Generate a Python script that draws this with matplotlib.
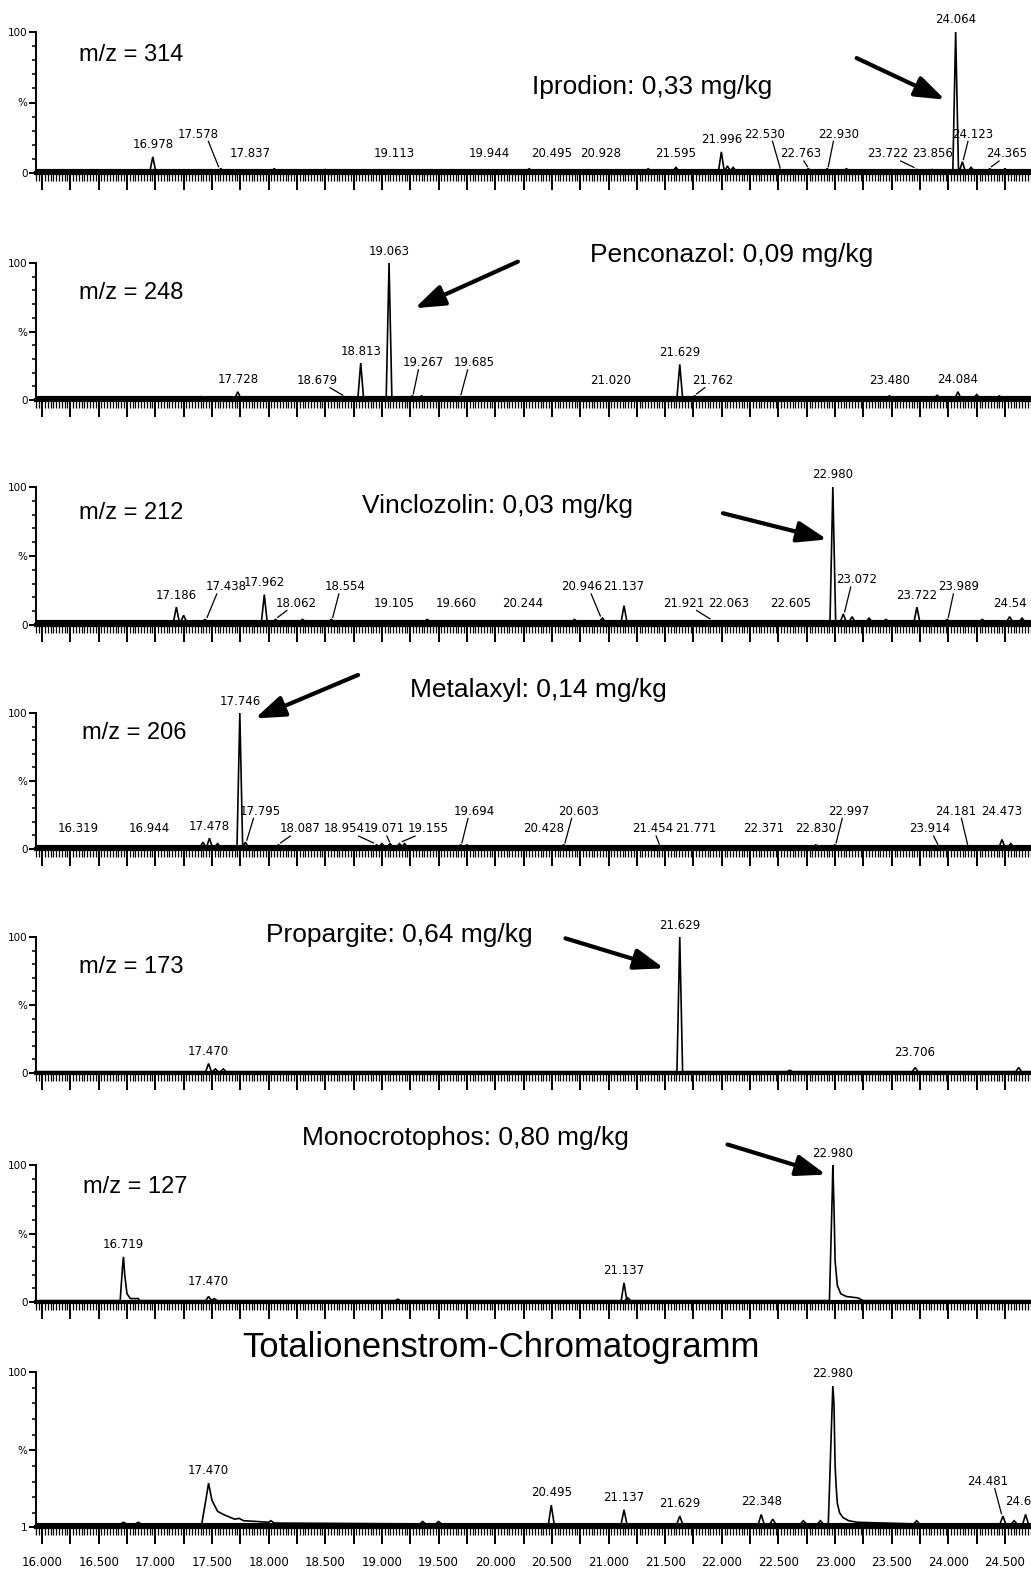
import matplotlib
matplotlib.use("Agg")
import matplotlib.pyplot as plt
from matplotlib import font_manager
from matplotlib.ticker import MultipleLocator, FuncFormatter

# ---- data (retention time in min, intensity in %) ----

P1_MZ = "m/z = 314"
P1_LABELS = ["16.978", "17.578", "17.837", "19.113", "19.944", "20.495", "20.928", "21.595",
             "21.996", "22.530", "22.763", "22.930", "23.722", "23.856", "24.064", "24.123", "24.365"]
P1_HEIGHTS = [11.5, 3, 1.5, 1.5, 1.5, 2, 2, 4, 15, 2, 3, 3, 2.5, 2.5, 100, 8, 3]
P1_EXTRA_RT = [18.05, 18.5, 20.3, 21.35, 22.05, 22.1, 23.1, 24.2, 24.5]
P1_EXTRA_H = [3, 2.5, 3, 3, 5, 4, 3, 4, 3]
P1_COMPOUND = "Iprodion: 0,33 mg/kg"

P2_MZ = "m/z = 248"
P2_LABELS = ["17.728", "18.679", "18.813", "19.063", "19.267", "19.685", "21.020", "21.629",
             "21.762", "23.480", "24.084"]
P2_HEIGHTS = [6, 2, 27, 100, 3, 2.5, 2, 26, 3, 3, 6]
P2_EXTRA_RT = [17.4, 19.35, 23.9, 24.25, 24.45]
P2_EXTRA_H = [2.5, 3, 3.5, 4, 3]
P2_COMPOUND = "Penconazol: 0,09 mg/kg"

P3_MZ = "m/z = 212"
P3_LABELS = ["17.186", "17.438", "17.962", "18.062", "18.554", "19.105", "19.660", "20.244",
             "20.946", "21.137", "21.921", "22.063", "22.605", "22.980", "23.072", "23.722",
             "23.989", "24.54"]
P3_HEIGHTS = [13, 4, 22, 4, 4, 3, 3, 3, 5, 14, 3, 3, 3, 100, 8, 13, 4, 6]
P3_EXTRA_RT = [17.25, 18.3, 19.4, 20.7, 23.15, 23.3, 23.45, 24.3, 24.65]
P3_EXTRA_H = [7, 4, 4, 4, 6, 5, 4, 4, 5]
P3_COMPOUND = "Vinclozolin: 0,03 mg/kg"

P4_MZ = "m/z = 206"
P4_LABELS = ["16.319", "16.944", "17.478", "17.746", "17.795", "18.087", "18.954", "19.071",
             "19.155", "19.694", "20.428", "20.603", "21.454", "21.771", "22.371", "22.830",
             "22.997", "23.914", "24.181", "24.473"]
P4_HEIGHTS = [2, 2, 8, 100, 5, 3, 3, 4, 4, 3, 2, 3, 2, 2, 2, 3, 3, 2, 2, 7]
P4_EXTRA_RT = [17.42, 17.55, 19.0, 19.2, 19.75, 24.55]
P4_EXTRA_H = [5, 4, 4, 4, 3, 4]
P4_COMPOUND = "Metalaxyl: 0,14 mg/kg"

P5_MZ = "m/z = 173"
P5_LABELS = ["17.470", "21.629", "23.706"]
P5_HEIGHTS = [7, 100, 4]
P5_EXTRA_RT = [17.53, 17.6, 22.6, 24.62]
P5_EXTRA_H = [3, 3, 2, 4]
P5_COMPOUND = "Propargite: 0,64 mg/kg"

P6_MZ = "m/z = 127"
P6_LABELS = ["16.719", "17.470", "21.137", "22.980"]
P6_HEIGHTS = [33, 4, 14, 100]
P6_EXTRA_RT = [17.52, 19.14, 21.17]
P6_EXTRA_H = [2.5, 2, 3]
P6_COMPOUND = "Monocrotophos: 0,80 mg/kg"
P6_SHAPE_16719_RT = [16.69, 16.71, 16.719, 16.73, 16.75, 16.78, 16.85, 16.86]
P6_SHAPE_16719_H = [1, 25, 33, 20, 6, 2.5, 2.5, 1]
P6_SHAPE_22980_RT = [22.95, 22.975, 22.98, 22.99, 23.0, 23.02, 23.05, 23.1, 23.2, 23.25]
P6_SHAPE_22980_H = [1, 80, 100, 70, 30, 12, 6, 4, 3, 1]

TIC_TITLE = "Totalionenstrom-Chromatogramm"
TIC_LABELS = ["17.470", "20.495", "21.137", "21.629", "22.348", "22.980", "24.481", "24.681"]
TIC_HEIGHTS = [29, 15, 12, 8, 9, 91, 8, 9]
TIC_EXTRA_RT = [16.72, 16.85, 19.36, 19.5, 22.45, 22.72, 22.87, 23.72, 24.58]
TIC_EXTRA_H = [4, 4, 4.5, 4.5, 6, 5, 5, 5, 5]
TIC_SHAPE_17470_RT = [17.41, 17.45, 17.47, 17.50, 17.55, 17.60, 17.65, 17.70, 17.74, 17.78,
                      17.90, 18.00, 18.02, 18.05]
TIC_SHAPE_17470_H = [3, 20, 29, 18, 11, 9, 7.5, 6, 6.5, 5, 4.5, 4, 5, 3.5]
TIC_SHAPE_22980_RT = [22.94, 22.97, 22.98, 22.99, 23.0, 23.01, 23.02, 23.04, 23.07, 23.12, 23.2]
TIC_SHAPE_22980_H = [3, 70, 91, 80, 40, 26, 16, 10, 7, 5, 4]

X_TICK_START, X_TICK_END = 16.0, 24.5

# ---- layout ----

W_PX, H_PX, DPI = 1031, 1571, 100
AX_LEFT_PX = 36
RT_MIN, RT_MAX = 15.947, 24.729
HALF_WIDTH = 0.025
LABEL_GAP = 4

_names = {f.name for f in font_manager.fontManager.ttflist}
NARROW = "Liberation Sans Narrow" if "Liberation Sans Narrow" in _names else "DejaVu Sans"
SANS = "Liberation Sans" if "Liberation Sans" in _names else "DejaVu Sans"
NARROW_SIZE = 11 if NARROW != "DejaVu Sans" else 8.5


def panel(mz, labels, heights, extra_rt, extra_h, compound, **kw):
    d = dict(mz=mz, labels=labels, heights=heights, extra_rt=extra_rt, extra_h=extra_h,
             compound=compound, shapes={}, nudges={}, base=1.5, levels=(10, 23), ymin=0,
             band=0)
    d.update(kw)
    return d


PANELS = [
    panel(P1_MZ, P1_LABELS, P1_HEIGHTS, P1_EXTRA_RT, P1_EXTRA_H, P1_COMPOUND,
          px=(32, 173), levels=(9, 23), mz_pos=(16.33, 84), band=3,
          ann=dict(text=(20.325, 61), tail=(23.19, 81.5), head=(23.97, 52)),
          nudges={"17.578": (-0.2, 1), "22.530": (-0.15, 1), "22.763": (-0.07, 0),
                  "22.930": (0.1, 1), "23.722": (-0.26, 0), "24.123": (0.09, 1),
                  "24.365": (0.15, 0)}),
    panel(P2_MZ, P2_LABELS, P2_HEIGHTS, P2_EXTRA_RT, P2_EXTRA_H, P2_COMPOUND,
          px=(263, 400), levels=(9.5, 22.5), mz_pos=(16.33, 78), band=3,
          ann=dict(text=(20.84, 106), tail=(20.2, 101), head=(19.29, 67)),
          nudges={"18.679": (-0.25, 0), "19.267": (0.1, 1), "19.685": (0.13, 1),
                  "21.762": (0.16, 0)}),
    panel(P3_MZ, P3_LABELS, P3_HEIGHTS, P3_EXTRA_RT, P3_EXTRA_H, P3_COMPOUND,
          px=(487, 625), levels=(11, 23), base=2.5, mz_pos=(16.33, 81), band=3,
          ann=dict(text=(18.82, 86), tail=(22.01, 81), head=(22.93, 62)),
          nudges={"17.438": (0.19, 1), "18.062": (0.18, 0), "18.554": (0.12, 1),
                  "20.946": (-0.18, 1), "21.137": (0, 1), "21.921": (-0.26, 0),
                  "23.072": (0.12, 28), "23.989": (0.1, 1)}),
    panel(P4_MZ, P4_LABELS, P4_HEIGHTS, P4_EXTRA_RT, P4_EXTRA_H, P4_COMPOUND,
          px=(713, 849), levels=(10, 23), mz_pos=(16.35, 85), band=3,
          ann=dict(text=(19.25, 117), tail=(18.79, 128), head=(17.88, 96)),
          nudges={"17.795": (0.13, 1), "18.087": (0.19, 0), "18.954": (-0.29, 0),
                  "19.071": (-0.05, 0), "19.155": (0.25, 0), "19.694": (0.12, 1),
                  "20.603": (0.13, 1), "21.454": (-0.06, 0), "22.997": (0.12, 1),
                  "23.914": (-0.08, 0), "24.181": (-0.12, 1), "24.473": (0, 1)}),
    panel(P5_MZ, P5_LABELS, P5_HEIGHTS, P5_EXTRA_RT, P5_EXTRA_H, P5_COMPOUND,
          px=(937, 1073), base=1, mz_pos=(16.33, 78), band=2,
          ann=dict(text=(17.98, 101.5), tail=(20.62, 99), head=(21.49, 77))),
    panel(P6_MZ, P6_LABELS, P6_HEIGHTS, P6_EXTRA_RT, P6_EXTRA_H, P6_COMPOUND,
          px=(1165, 1302), base=1, mz_pos=(16.36, 84),
          ann=dict(text=(18.295, 120), tail=(22.05, 115), head=(22.92, 93)),
          shapes={"16.719": (P6_SHAPE_16719_RT, P6_SHAPE_16719_H),
                  "22.980": (P6_SHAPE_22980_RT, P6_SHAPE_22980_H)}),
    panel(None, TIC_LABELS, TIC_HEIGHTS, TIC_EXTRA_RT, TIC_EXTRA_H, None,
          px=(1372, 1527), base=3, ymin=1, band=1.5,
          shapes={"17.470": (TIC_SHAPE_17470_RT, TIC_SHAPE_17470_H),
                  "22.980": (TIC_SHAPE_22980_RT, TIC_SHAPE_22980_H)},
          nudges={"24.481": (-0.13, 26)}),
]


def build_trace(p):
    peaks = [(float(s), h, s) for s, h in zip(p["labels"], p["heights"])]
    peaks += [(rt, h, None) for rt, h in zip(p["extra_rt"], p["extra_h"])]
    peaks.sort()
    b = p["base"]
    xs, ys = [RT_MIN], [b]
    for rt, h, s in peaks:
        if s in p["shapes"]:
            srt, sh = p["shapes"][s]
            xs += list(srt)
            ys += list(sh)
        else:
            xs += [rt - HALF_WIDTH, rt, rt + HALF_WIDTH]
            ys += [b, h, b]
    xs.append(RT_MAX)
    ys.append(b)
    return xs, ys


def style_axes(ax, p, last):
    for side in ("top", "right"):
        ax.spines[side].set_visible(False)
    ax.spines["left"].set_linewidth(1.4)
    ax.spines["bottom"].set_linewidth(3)
    ax.set_xlim(RT_MIN, RT_MAX)
    ax.set_ylim(p["ymin"], 100)
    ax.xaxis.set_major_locator(MultipleLocator(0.25))
    ax.xaxis.set_minor_locator(MultipleLocator(0.025))
    ax.tick_params(axis="x", which="major", direction="out", length=12, width=1.4, pad=9)
    ax.tick_params(axis="x", which="minor", direction="out", length=6, width=0.9)
    if last:
        ax.xaxis.set_major_formatter(FuncFormatter(
            lambda v, _: f"{v:.3f}" if abs(v * 2 - round(v * 2)) < 1e-6
            and X_TICK_START - 1e-6 <= v <= X_TICK_END + 1e-6 else ""))
        for lab in ax.get_xticklabels():
            lab.set_family(NARROW)
            lab.set_fontsize(NARROW_SIZE)
    else:
        ax.set_xticklabels([])
    ax.set_yticks([p["ymin"], 50, 100])
    ax.set_yticklabels(["1" if p["ymin"] == 1 else "0", "%", "100"],
                       family=NARROW, fontsize=NARROW_SIZE - 1)
    ax.yaxis.set_minor_locator(MultipleLocator(10))
    ax.tick_params(axis="y", which="major", length=5, width=1.4, pad=1)
    ax.tick_params(axis="y", which="minor", length=3, width=1.1)
    ax.patch.set_alpha(0)


def draw_labels(ax, p):
    base_lvl, raised_lvl = p["levels"]
    for s, h in zip(p["labels"], p["heights"]):
        rt = float(s)
        peak_top = max(y for x, y in zip(*p["trace"]) if abs(x - rt) < 1e-9) if s in p["shapes"] else h
        if s in p["nudges"]:
            dx, lvl = p["nudges"][s]
            y = base_lvl if lvl == 0 else raised_lvl if lvl == 1 else lvl
            y = max(y, peak_top + LABEL_GAP) if dx == 0 else y
        else:
            dx = 0
            y = max(base_lvl, peak_top + LABEL_GAP)
        ax.text(rt + dx, y, s, ha="center", va="bottom", family=NARROW,
                fontsize=NARROW_SIZE, clip_on=False)
        if dx != 0:
            ax.plot([rt + 0.55 * dx, rt + 0.1 * dx], [y - 0.5, peak_top + 1.5],
                    color="black", lw=0.9, clip_on=False)


fig = plt.figure(figsize=(W_PX / DPI, H_PX / DPI), dpi=DPI)
fig.patch.set_facecolor("white")

for i, p in enumerate(PANELS):
    y100, y0 = p["px"]
    ax = fig.add_axes([AX_LEFT_PX / W_PX, 1 - y0 / H_PX,
                       (W_PX - AX_LEFT_PX) / W_PX, (y0 - y100) / H_PX])
    last = i == len(PANELS) - 1
    style_axes(ax, p, last)
    p["trace"] = build_trace(p)
    if p["band"]:
        # noisy baseline drawn as a band at the noise level
        ax.axhline(p["base"], color="black", lw=p["band"], zorder=1)
    ax.plot(*p["trace"], color="black", lw=1.2, clip_on=False, solid_joinstyle="miter")
    draw_labels(ax, p)
    if p["mz"]:
        ax.text(*p["mz_pos"], p["mz"], ha="left", va="center", family=SANS, fontsize=17)
    if p["compound"]:
        a = p["ann"]
        ax.text(*a["text"], p["compound"], ha="left", va="center", family=SANS, fontsize=19)
        ax.annotate("", xy=a["head"], xytext=a["tail"], annotation_clip=False,
                    arrowprops=dict(arrowstyle="-|>,head_length=0.9,head_width=0.32",
                                    lw=3, color="black", shrinkA=0, shrinkB=0,
                                    mutation_scale=20))

fig.text(501 / W_PX, 1 - 1347 / H_PX, TIC_TITLE, ha="center", va="center",
         family=SANS, fontsize=25)

fig.savefig("out.png", dpi=DPI)
print(NARROW, SANS)
